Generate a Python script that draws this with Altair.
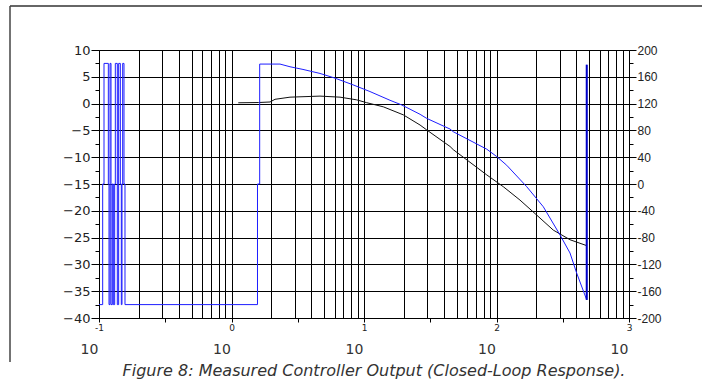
import altair as alt
import pandas as pd

# ---- Blue series: phase (deg), right axis ----
blue_freq = [0.1, 0.1066, 0.1066, 0.1091, 0.1091, 0.1176, 0.1176, 0.1190, 0.1190,
             0.1211, 0.1211, 0.1232, 0.1232, 0.1260, 0.1260, 0.1283, 0.1283, 0.1313,
             0.1313, 0.1328, 0.1328, 0.1375, 0.1375, 0.1407, 0.1407, 0.1449, 0.1449,
             0.1474, 0.1474, 0.1491, 0.1491, 0.1509, 0.1509, 0.1544, 0.1544, 0.1571,
             0.1571, 1.571, 1.571, 1.632, 1.632, 2.323, 2.764, 3.464, 4.656, 6.04,
             8.26, 11.09, 15.70, 19.25, 26.5, 29.7, 44.6, 47.2, 84.4, 100.3, 119.4,
             169.0, 225.6, 301.5, 358.7, 402.8, 479.7, 479.7]
blue_phase = [-180, -180, 0, 0, 180, 180, 0, 0, -180,
              -180, 180, 180, -180, -180, 0, 0, -180, -180,
              0, 0, 180, 180, -180, -180, 180, 180, 0,
              0, -180, -180, 0, 0, 180, 180, 0, 0,
              -180, -180, 0, 0, 179, 179, 175, 171, 165, 158,
              148, 138, 125, 118, 104, 98, 82, 78, 52, 41, 28,
              -4, -34, -76, -103, -133, -173, 178]

# ---- Black series: magnitude (dB), left axis ----
black_freq = [1.125, 1.6, 1.953, 2.13, 2.764, 4.656, 6.59, 8.81, 10.48, 13.99, 19.8,
              26.5, 29.7, 44.6, 47.2, 84.4, 112.5, 150.4, 201.1, 268.3, 358.7, 479.7]
black_mag = [0.15, 0.2, 0.3, 0.8, 1.2, 1.4, 1.2, 0.7, 0.17, -0.6, -2.1,
             -4.0, -4.9, -8.0, -8.6, -13.3, -15.5, -18.0, -20.8, -23.6, -25.4, -26.5]

# ---- final phase wrap segment (drawn heavier in the original) ----
wrap_freq = [479.7, 479.7]
wrap_phase = [-173, 178]

# tick values
decades = [0.1, 1, 10, 100, 1000]
x_grid_vals = [m * d for d in [0.1, 1, 10, 100] for m in range(1, 10)] + [1000]
x_half_vals = [0.31623, 3.1623, 31.623, 316.23]
left_vals = [-40 + 2.5 * k for k in range(21)]
right_vals = [-200 + 20 * k for k in range(21)]

caption = "Figure 8: Measured Controller Output (Closed-Loop Response)."

df_blue = pd.DataFrame({"f": blue_freq, "p": blue_phase, "i": list(range(len(blue_freq)))})
df_black = pd.DataFrame({"f": black_freq, "m": black_mag, "i": list(range(len(black_freq)))})
df_wrap = pd.DataFrame({"f": wrap_freq, "p": wrap_phase, "i": [0, 1]})

LOG10 = "(log(datum.value)/LN10)"
is_decade = f"abs({LOG10} - round({LOG10})) < 0.001"
is_half = f"abs({LOG10} - floor({LOG10}) - 0.5) < 0.001"

xscale = alt.Scale(type="log", domain=[0.1, 1000], nice=False)
rscale = alt.Scale(domain=[-200, 200], nice=False)

x_axis_main = alt.Axis(
    orient="bottom",
    values=x_grid_vals + x_half_vals,
    grid=True,
    gridColor="#000",
    gridOpacity={"condition": {"test": is_half, "value": 0}, "value": 1},
    gridWidth=1,
    tickColor="#000",
    tickSize={"condition": {"test": f"({is_decade}) || ({is_half})", "value": 4}, "value": 0},
    domainColor="#000",
    labelExpr=f"({is_decade}) ? '' + round({LOG10}) : ''",
    labelFont="DejaVu Sans",
    labelFontSize=9,
    labelColor="#222",
    labelPadding=1,
    labelOverlap=False,
    labelFlush=False,
    title=None,
)

x_axis_ten = alt.Axis(
    orient="bottom",
    values=decades,
    grid=False,
    ticks=False,
    domain=False,
    labelExpr="'10'",
    labelFont="DejaVu Sans",
    labelFontSize=14,
    labelFontWeight="normal",
    labelColor="#333",
    labelPadding=24,
    labelOffset=-10,
    labelOverlap=False,
    labelFlush=False,
    title=None,
)

left_axis = alt.Axis(
    orient="left",
    values=left_vals,
    grid=True,
    gridColor="#000",
    gridOpacity={"condition": {"test": "datum.value % 5 === 0", "value": 1}, "value": 0},
    tickColor="#000",
    tickSize={"condition": {"test": "datum.value % 5 === 0", "value": 8}, "value": 4},
    domainColor="#000",
    labelExpr="datum.value % 5 === 0 ? datum.label : ''",
    labelFont="DejaVu Sans",
    labelFontSize=13,
    labelColor="#222",
    labelPadding=1,
    labelOverlap=False,
    labelFlush=False,
    title=None,
)

right_axis = alt.Axis(
    orient="right",
    values=right_vals,
    grid=False,
    tickColor="#000",
    tickSize={"condition": {"test": "datum.value % 40 === 0", "value": 7}, "value": 4},
    domainColor="#000",
    labelExpr="datum.value % 40 === 0 ? (datum.value < 0 ? '-' + abs(datum.value) : '' + datum.value) : ''",
    labelFont="Liberation Sans",
    labelFontSize=12,
    labelColor="#222",
    labelPadding=1,
    labelOverlap=False,
    labelFlush=False,
    title=None,
)

black = alt.Chart(df_black).mark_line(color="#111", strokeWidth=1, clip=True).encode(
    x=alt.X("f:Q", scale=xscale, axis=x_axis_main),
    y=alt.Y("m:Q", scale=alt.Scale(domain=[-40, 10], nice=False), axis=left_axis),
    order="i:Q",
)

blue = alt.Chart(df_blue).mark_line(color="#1e1eff", strokeWidth=1, clip=True).encode(
    x=alt.X("f:Q", scale=xscale, axis=x_axis_ten),
    y=alt.Y("p:Q", scale=rscale, axis=right_axis),
    order="i:Q",
)

wrap = alt.Chart(df_wrap).mark_line(color="#0000c8", strokeWidth=2, clip=True).encode(
    x=alt.X("f:Q", scale=xscale, axis=None),
    y=alt.Y("p:Q", scale=rscale, axis=None),
    order="i:Q",
)

frame_df = pd.DataFrame({"k": [0]})
frame_top = alt.Chart(frame_df).mark_rule(color="#333", strokeWidth=1.5).encode(
    x=alt.value(-89), x2=alt.value(603), y=alt.value(-44))
frame_left = alt.Chart(frame_df).mark_rule(color="#444", strokeWidth=1.5).encode(
    x=alt.value(-89), y=alt.value(-44), y2=alt.value(312))

chart = alt.layer(black, blue, wrap, frame_top, frame_left).resolve_scale(
    y="independent"
).resolve_axis(
    x="independent", y="independent"
).properties(
    width=530,
    height=268,
    autosize=alt.AutoSizeParams(type="none"),
    padding={"left": 99, "top": 50, "right": 73, "bottom": 61},
    title=alt.TitleParams(
        text=caption, orient="bottom", anchor="middle", font="DejaVu Sans",
        fontSize=16, fontStyle="italic", fontWeight="normal", color="#333",
        offset=0, dx=10,
    ),
).configure_view(stroke=None).configure(background="white")

chart.save("out.html", embed_options={"renderer": "svg", "actions": False})
